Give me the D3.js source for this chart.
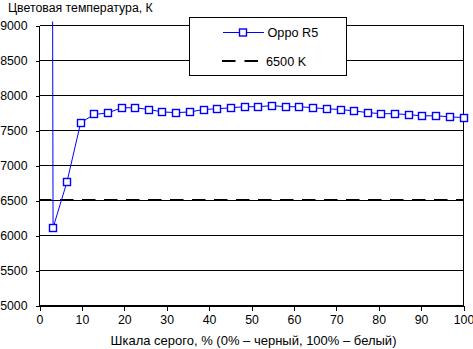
<!DOCTYPE html>
<html>
<head>
<meta charset="utf-8">
<script src="https://cdn.jsdelivr.net/npm/d3@7"></script>
<style>
  html, body { margin: 0; padding: 0; background: #fff; }
  svg { display: block; font-family: "Liberation Sans", Arial, sans-serif; }
</style>
</head>
<body>
<svg id="chart" width="473" height="349"></svg>
<script>
// Gray levels (% of white) at which the colour temperature was measured
const grayLevels = [0, 3.2, 6.5, 9.7, 12.9, 16.1, 19.4, 22.6, 25.8, 29.0, 32.3, 35.5, 38.7, 41.9,
  45.2, 48.4, 51.6, 54.8, 58.1, 61.3, 64.5, 67.7, 71.0, 74.2, 77.4, 80.6, 83.9, 87.1, 90.3, 93.5, 96.8, 100];
// Measured colour temperature, K (the black level reads far off-scale)
const opposR5 = [95000, 6110, 6770, 7610, 7730, 7750, 7825, 7825, 7800, 7765, 7755, 7765, 7800, 7810,
  7825, 7840, 7840, 7855, 7840, 7840, 7825, 7810, 7800, 7780, 7755, 7740, 7740, 7725, 7710, 7710, 7695, 7685];
const referenceK = 6500;
const yTicks = [5000, 5500, 6000, 6500, 7000, 7500, 8000, 8500, 9000];
const xTicks = [0, 10, 20, 30, 40, 50, 60, 70, 80, 90, 100];
const seriesNames = ["Oppo R5", "6500 K"];
const yTitle = "Цветовая температура, К";
const xTitle = "Шкала серого, % (0% – черный, 100% – белый)";

const svg = d3.select("#chart");
const x = d3.scaleLinear().domain([0, 100]).range([39.5, 463.5]);
const y = d3.scaleLinear().domain([5000, 9000]).range([305.5, 25.5]);
const blue = "#0000ff";

// horizontal grid
svg.append("g").selectAll("line").data(yTicks).join("line")
  .attr("x1", x(0)).attr("x2", x(100))
  .attr("y1", d => y(d)).attr("y2", d => y(d))
  .attr("stroke", "#000").attr("stroke-width", 1).attr("shape-rendering", "crispEdges");

// right border
svg.append("line").attr("x1", x(100)).attr("x2", x(100)).attr("y1", y(9000)).attr("y2", y(5000))
  .attr("stroke", "#000").attr("shape-rendering", "crispEdges");

// axes
const yAxis = d3.axisLeft(y).tickValues(yTicks).tickSize(4).tickPadding(8).tickFormat(d3.format("d"));
const gy = svg.append("g").attr("transform", `translate(${x(0)},0)`).call(yAxis);
const xAxis = d3.axisBottom(x).tickValues(xTicks).tickSize(5).tickPadding(5).tickFormat(d3.format("d"));
const gx = svg.append("g").attr("transform", `translate(0,${y(5000)})`).call(xAxis);
[gx, gy].forEach(g => {
  g.select(".domain").attr("stroke", "#000").attr("shape-rendering", "crispEdges");
  g.selectAll(".tick line").attr("stroke", "#000").attr("shape-rendering", "crispEdges");
  g.selectAll(".tick text").attr("fill", "#000").attr("font-size", 12.3)
    .attr("font-family", "Liberation Sans, Arial, sans-serif");
});
gy.select(".domain").remove();
svg.append("line").attr("x1", x(0)).attr("x2", x(0)).attr("y1", y(9000)).attr("y2", y(5000))
  .attr("stroke", "#000").attr("shape-rendering", "crispEdges");

// reference line 6500 K
svg.append("line")
  .attr("x1", x(0)).attr("x2", x(100)).attr("y1", y(referenceK) - 0.5).attr("y2", y(referenceK) - 0.5)
  .attr("stroke", "#000").attr("stroke-width", 2)
  .attr("stroke-dasharray", "13.5,8.5").attr("stroke-dashoffset", 1.5);

// series line, clipped to the plot area
svg.append("clipPath").attr("id", "plotClip").append("rect")
  .attr("x", x(0)).attr("y", y(9000) - 4).attr("width", x(100) - x(0) + 1).attr("height", y(5000) - y(9000) + 4);
const pts = grayLevels.map((g, i) => ({ g, v: opposR5[i] }));
svg.append("path").datum(pts)
  .attr("clip-path", "url(#plotClip)")
  .attr("fill", "none").attr("stroke", blue).attr("stroke-width", 1)
  .attr("d", d3.line().x(d => x(d.g)).y(d => y(d.v)));

// markers (only those within the plot range)
const ms = 7;
svg.append("g").selectAll("rect").data(pts.filter(d => d.v <= 9000 && d.v >= 5000)).join("rect")
  .attr("x", d => Math.round(x(d.g)) - ms / 2)
  .attr("y", d => Math.round(y(d.v)) - ms / 2)
  .attr("width", ms).attr("height", ms)
  .attr("fill", "#fff").attr("stroke", blue).attr("stroke-width", 1.4);

// legend
const lg = svg.append("g");
lg.append("rect").attr("x", 189.5).attr("y", 17.5).attr("width", 157).attr("height", 58)
  .attr("fill", "#fff").attr("stroke", "#000").attr("shape-rendering", "crispEdges");
lg.append("line").attr("x1", 223).attr("x2", 264).attr("y1", 32.5).attr("y2", 32.5)
  .attr("stroke", blue).attr("stroke-width", 1);
lg.append("rect").attr("x", 239.5).attr("y", 29).attr("width", ms).attr("height", ms)
  .attr("fill", "#fff").attr("stroke", blue).attr("stroke-width", 1.4);
lg.append("text").attr("x", 267.5).attr("y", 37).attr("font-size", 12.7).text(seriesNames[0]);
lg.append("line").attr("x1", 222).attr("x2", 259).attr("y1", 61).attr("y2", 61)
  .attr("stroke", "#000").attr("stroke-width", 2).attr("stroke-dasharray", "13.5,9");
lg.append("text").attr("x", 266).attr("y", 65.5).attr("font-size", 12.7).text(seriesNames[1]);

// titles
svg.append("text").attr("x", 8).attr("y", 12).attr("font-size", 12.3).text(yTitle);
svg.append("text").attr("x", (x(0) + x(100)) / 2 + 2).attr("y", 345).attr("text-anchor", "middle")
  .attr("font-size", 13).text(xTitle);
</script>
</body>
</html>
